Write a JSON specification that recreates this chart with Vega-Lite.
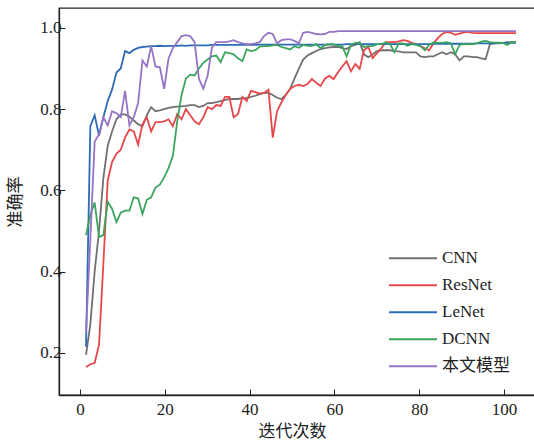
{
 "$schema": "https://vega.github.io/schema/vega-lite/v6.json",
 "width": 476, "height": 387,
 "autosize": {"type": "none"},
 "padding": {"left": 59, "top": 8, "right": 0, "bottom": 50},
 "background": "white",
 "config": {"view": {"stroke": "#222", "strokeWidth": 1.3}, "font": "Liberation Serif, Noto Sans CJK SC"},
 "data": {"values": [
{"x":1.42,"CNN":0.195,"ResNet":0.165,"LeNet":0.215,"DCNN":0.49,"本文模型":0.25},
{"x":2.44,"CNN":0.27,"ResNet":0.172,"LeNet":0.758,"DCNN":0.54,"本文模型":0.48},
{"x":3.46,"CNN":0.40,"ResNet":0.175,"LeNet":0.785,"DCNN":0.57,"本文模型":0.72},
{"x":4.49,"CNN":0.50,"ResNet":0.22,"LeNet":0.735,"DCNN":0.485,"本文模型":0.738},
{"x":5.51,"CNN":0.63,"ResNet":0.42,"LeNet":0.78,"DCNN":0.49,"本文模型":0.78},
{"x":6.54,"CNN":0.71,"ResNet":0.625,"LeNet":0.82,"DCNN":0.572,"本文模型":0.76},
{"x":7.56,"CNN":0.745,"ResNet":0.67,"LeNet":0.848,"DCNN":0.555,"本文模型":0.795},
{"x":8.59,"CNN":0.775,"ResNet":0.69,"LeNet":0.89,"DCNN":0.522,"本文模型":0.79},
{"x":9.61,"CNN":0.787,"ResNet":0.70,"LeNet":0.90,"DCNN":0.545,"本文模型":0.78},
{"x":10.63,"CNN":0.787,"ResNet":0.73,"LeNet":0.943,"DCNN":0.55,"本文模型":0.845},
{"x":11.66,"CNN":0.782,"ResNet":0.75,"LeNet":0.938,"DCNN":0.55,"本文模型":0.76},
{"x":12.68,"CNN":0.772,"ResNet":0.745,"LeNet":0.946,"DCNN":0.583,"本文模型":0.78},
{"x":13.71,"CNN":0.763,"ResNet":0.713,"LeNet":0.951,"DCNN":0.58,"本文模型":0.815},
{"x":14.73,"CNN":0.758,"ResNet":0.763,"LeNet":0.953,"DCNN":0.542,"本文模型":0.92},
{"x":15.76,"CNN":0.785,"ResNet":0.78,"LeNet":0.954,"DCNN":0.577,"本文模型":0.905},
{"x":16.78,"CNN":0.805,"ResNet":0.745,"LeNet":0.955,"DCNN":0.583,"本文模型":0.955},
{"x":17.80,"CNN":0.795,"ResNet":0.768,"LeNet":0.955,"DCNN":0.607,"本文模型":0.905},
{"x":18.83,"CNN":0.797,"ResNet":0.768,"LeNet":0.956,"DCNN":0.614,"本文模型":0.903},
{"x":19.85,"CNN":0.80,"ResNet":0.77,"LeNet":0.955,"DCNN":0.632,"本文模型":0.85},
{"x":20.88,"CNN":0.803,"ResNet":0.775,"LeNet":0.956,"DCNN":0.655,"本文模型":0.925},
{"x":21.90,"CNN":0.805,"ResNet":0.758,"LeNet":0.956,"DCNN":0.685,"本文模型":0.95},
{"x":22.93,"CNN":0.806,"ResNet":0.788,"LeNet":0.956,"DCNN":0.77,"本文模型":0.965},
{"x":23.95,"CNN":0.807,"ResNet":0.775,"LeNet":0.957,"DCNN":0.835,"本文模型":0.98},
{"x":24.97,"CNN":0.808,"ResNet":0.80,"LeNet":0.956,"DCNN":0.875,"本文模型":0.982},
{"x":26.00,"CNN":0.81,"ResNet":0.785,"LeNet":0.957,"DCNN":0.885,"本文模型":0.98},
{"x":27.02,"CNN":0.81,"ResNet":0.77,"LeNet":0.957,"DCNN":0.883,"本文模型":0.965},
{"x":28.05,"CNN":0.805,"ResNet":0.763,"LeNet":0.957,"DCNN":0.90,"本文模型":0.875},
{"x":29.07,"CNN":0.808,"ResNet":0.78,"LeNet":0.957,"DCNN":0.914,"本文模型":0.85},
{"x":30.10,"CNN":0.815,"ResNet":0.805,"LeNet":0.957,"DCNN":0.922,"本文模型":0.882},
{"x":31.12,"CNN":0.815,"ResNet":0.80,"LeNet":0.958,"DCNN":0.93,"本文模型":0.952},
{"x":32.14,"CNN":0.817,"ResNet":0.81,"LeNet":0.958,"DCNN":0.932,"本文模型":0.965},
{"x":33.17,"CNN":0.82,"ResNet":0.808,"LeNet":0.958,"DCNN":0.916,"本文模型":0.965},
{"x":34.19,"CNN":0.823,"ResNet":0.83,"LeNet":0.958,"DCNN":0.94,"本文模型":0.965},
{"x":35.22,"CNN":0.825,"ResNet":0.83,"LeNet":0.958,"DCNN":0.938,"本文模型":0.967},
{"x":36.24,"CNN":0.825,"ResNet":0.78,"LeNet":0.958,"DCNN":0.935,"本文模型":0.97},
{"x":37.27,"CNN":0.825,"ResNet":0.788,"LeNet":0.958,"DCNN":0.925,"本文模型":0.965},
{"x":38.29,"CNN":0.827,"ResNet":0.83,"LeNet":0.958,"DCNN":0.918,"本文模型":0.962},
{"x":39.31,"CNN":0.828,"ResNet":0.82,"LeNet":0.958,"DCNN":0.947,"本文模型":0.96},
{"x":40.34,"CNN":0.83,"ResNet":0.845,"LeNet":0.958,"DCNN":0.943,"本文模型":0.96},
{"x":41.36,"CNN":0.833,"ResNet":0.842,"LeNet":0.958,"DCNN":0.945,"本文模型":0.962},
{"x":42.39,"CNN":0.837,"ResNet":0.838,"LeNet":0.959,"DCNN":0.954,"本文模型":0.965},
{"x":43.41,"CNN":0.84,"ResNet":0.84,"LeNet":0.959,"DCNN":0.955,"本文模型":0.98},
{"x":44.44,"CNN":0.84,"ResNet":0.848,"LeNet":0.959,"DCNN":0.955,"本文模型":0.988},
{"x":45.46,"CNN":0.835,"ResNet":0.73,"LeNet":0.959,"DCNN":0.957,"本文模型":0.985},
{"x":46.48,"CNN":0.828,"ResNet":0.795,"LeNet":0.959,"DCNN":0.958,"本文模型":0.962},
{"x":47.51,"CNN":0.825,"ResNet":0.817,"LeNet":0.959,"DCNN":0.953,"本文模型":0.97},
{"x":48.53,"CNN":0.835,"ResNet":0.835,"LeNet":0.959,"DCNN":0.95,"本文模型":0.972},
{"x":49.56,"CNN":0.85,"ResNet":0.85,"LeNet":0.959,"DCNN":0.947,"本文模型":0.972},
{"x":50.58,"CNN":0.875,"ResNet":0.857,"LeNet":0.959,"DCNN":0.955,"本文模型":0.968},
{"x":51.61,"CNN":0.90,"ResNet":0.86,"LeNet":0.959,"DCNN":0.951,"本文模型":0.962},
{"x":52.63,"CNN":0.922,"ResNet":0.857,"LeNet":0.959,"DCNN":0.958,"本文模型":0.988},
{"x":53.65,"CNN":0.932,"ResNet":0.862,"LeNet":0.959,"DCNN":0.956,"本文模型":0.99},
{"x":54.68,"CNN":0.938,"ResNet":0.874,"LeNet":0.959,"DCNN":0.956,"本文模型":0.988},
{"x":55.70,"CNN":0.943,"ResNet":0.865,"LeNet":0.959,"DCNN":0.96,"本文模型":0.985},
{"x":56.73,"CNN":0.948,"ResNet":0.857,"LeNet":0.959,"DCNN":0.95,"本文模型":0.984},
{"x":57.75,"CNN":0.95,"ResNet":0.875,"LeNet":0.959,"DCNN":0.958,"本文模型":0.985},
{"x":58.78,"CNN":0.952,"ResNet":0.882,"LeNet":0.959,"DCNN":0.96,"本文模型":0.99},
{"x":59.80,"CNN":0.953,"ResNet":0.874,"LeNet":0.959,"DCNN":0.96,"本文模型":0.99},
{"x":60.82,"CNN":0.953,"ResNet":0.89,"LeNet":0.959,"DCNN":0.955,"本文模型":0.992},
{"x":61.85,"CNN":0.95,"ResNet":0.905,"LeNet":0.959,"DCNN":0.955,"本文模型":0.992},
{"x":62.87,"CNN":0.948,"ResNet":0.918,"LeNet":0.96,"DCNN":0.93,"本文模型":0.992},
{"x":63.90,"CNN":0.955,"ResNet":0.893,"LeNet":0.96,"DCNN":0.958,"本文模型":0.992},
{"x":64.92,"CNN":0.958,"ResNet":0.911,"LeNet":0.96,"DCNN":0.963,"本文模型":0.992},
{"x":65.95,"CNN":0.965,"ResNet":0.899,"LeNet":0.96,"DCNN":0.963,"本文模型":0.992},
{"x":66.97,"CNN":0.935,"ResNet":0.945,"LeNet":0.96,"DCNN":0.953,"本文模型":0.992},
{"x":67.99,"CNN":0.928,"ResNet":0.953,"LeNet":0.96,"DCNN":0.955,"本文模型":0.992},
{"x":69.02,"CNN":0.935,"ResNet":0.926,"LeNet":0.96,"DCNN":0.955,"本文模型":0.992},
{"x":70.04,"CNN":0.943,"ResNet":0.938,"LeNet":0.96,"DCNN":0.96,"本文模型":0.992},
{"x":71.07,"CNN":0.945,"ResNet":0.95,"LeNet":0.96,"DCNN":0.96,"本文模型":0.992},
{"x":72.09,"CNN":0.945,"ResNet":0.965,"LeNet":0.96,"DCNN":0.964,"本文模型":0.992},
{"x":73.12,"CNN":0.945,"ResNet":0.965,"LeNet":0.96,"DCNN":0.96,"本文模型":0.992},
{"x":74.14,"CNN":0.943,"ResNet":0.965,"LeNet":0.96,"DCNN":0.94,"本文模型":0.992},
{"x":75.16,"CNN":0.942,"ResNet":0.967,"LeNet":0.96,"DCNN":0.962,"本文模型":0.992},
{"x":76.19,"CNN":0.94,"ResNet":0.97,"LeNet":0.96,"DCNN":0.962,"本文模型":0.992},
{"x":77.21,"CNN":0.94,"ResNet":0.968,"LeNet":0.96,"DCNN":0.956,"本文模型":0.992},
{"x":78.24,"CNN":0.94,"ResNet":0.963,"LeNet":0.96,"DCNN":0.96,"本文模型":0.992},
{"x":79.26,"CNN":0.94,"ResNet":0.96,"LeNet":0.96,"DCNN":0.958,"本文模型":0.992},
{"x":80.29,"CNN":0.93,"ResNet":0.955,"LeNet":0.96,"DCNN":0.955,"本文模型":0.992},
{"x":81.31,"CNN":0.928,"ResNet":0.95,"LeNet":0.96,"DCNN":0.945,"本文模型":0.992},
{"x":82.33,"CNN":0.93,"ResNet":0.945,"LeNet":0.96,"DCNN":0.958,"本文模型":0.992},
{"x":83.36,"CNN":0.93,"ResNet":0.962,"LeNet":0.961,"DCNN":0.964,"本文模型":0.992},
{"x":84.38,"CNN":0.935,"ResNet":0.975,"LeNet":0.961,"DCNN":0.963,"本文模型":0.992},
{"x":85.41,"CNN":0.94,"ResNet":0.985,"LeNet":0.961,"DCNN":0.963,"本文模型":0.992},
{"x":86.43,"CNN":0.935,"ResNet":0.99,"LeNet":0.961,"DCNN":0.965,"本文模型":0.992},
{"x":87.46,"CNN":0.94,"ResNet":0.988,"LeNet":0.961,"DCNN":0.962,"本文模型":0.992},
{"x":88.48,"CNN":0.935,"ResNet":0.983,"LeNet":0.961,"DCNN":0.935,"本文模型":0.992},
{"x":89.50,"CNN":0.92,"ResNet":0.986,"LeNet":0.961,"DCNN":0.958,"本文模型":0.992},
{"x":90.53,"CNN":0.93,"ResNet":0.989,"LeNet":0.961,"DCNN":0.96,"本文模型":0.992},
{"x":91.55,"CNN":0.93,"ResNet":0.99,"LeNet":0.961,"DCNN":0.96,"本文模型":0.992},
{"x":92.58,"CNN":0.928,"ResNet":0.988,"LeNet":0.961,"DCNN":0.96,"本文模型":0.992},
{"x":93.60,"CNN":0.928,"ResNet":0.987,"LeNet":0.962,"DCNN":0.962,"本文模型":0.992},
{"x":94.63,"CNN":0.925,"ResNet":0.987,"LeNet":0.962,"DCNN":0.966,"本文模型":0.992},
{"x":95.65,"CNN":0.923,"ResNet":0.987,"LeNet":0.962,"DCNN":0.968,"本文模型":0.992},
{"x":96.67,"CNN":0.96,"ResNet":0.987,"LeNet":0.962,"DCNN":0.965,"本文模型":0.992},
{"x":97.70,"CNN":0.962,"ResNet":0.987,"LeNet":0.962,"DCNN":0.964,"本文模型":0.992},
{"x":98.72,"CNN":0.963,"ResNet":0.987,"LeNet":0.962,"DCNN":0.964,"本文模型":0.992},
{"x":99.75,"CNN":0.963,"ResNet":0.987,"LeNet":0.963,"DCNN":0.963,"本文模型":0.992},
{"x":100.77,"CNN":0.965,"ResNet":0.987,"LeNet":0.963,"DCNN":0.958,"本文模型":0.992},
{"x":101.80,"CNN":0.965,"ResNet":0.987,"LeNet":0.963,"DCNN":0.965,"本文模型":0.992},
{"x":102.82,"CNN":0.965,"ResNet":0.987,"LeNet":0.963,"DCNN":0.965,"本文模型":0.992}
 ]},
 "transform": [{"fold": ["CNN", "ResNet", "LeNet", "DCNN", "本文模型"], "as": ["model", "acc"]}],
 "mark": {"type": "line", "strokeWidth": 1.8, "clip": true},
 "encoding": {
  "x": {"field": "x", "type": "quantitative",
   "scale": {"domain": [-4.95, 107.3], "nice": false, "zero": false},
   "axis": {"values": [0, 20, 40, 60, 80, 100], "title": "迭代次数", "grid": false,
    "tickSize": -6, "tickColor": "#222", "domainColor": "#222", "domainWidth": 1.3,
    "labelFontSize": 17, "labelColor": "#222", "labelPadding": 12,
    "titleFontSize": 17, "titleFontWeight": "normal", "titleColor": "#222", "titleX": 233, "titlePadding": 6}},
  "y": {"field": "acc", "type": "quantitative",
   "scale": {"domain": [0.0963, 1.049], "nice": false, "zero": false},
   "axis": {"values": [0.2, 0.4, 0.6, 0.8, 1.0], "format": ".1f", "title": "准确率", "grid": false,
    "tickSize": -6, "tickColor": "#222", "domainColor": "#222", "domainWidth": 1.3,
    "labelFontSize": 17, "labelColor": "#222", "labelPadding": 4,
    "titleFontSize": 17, "titleFontWeight": "normal", "titleColor": "#222", "titlePadding": 15}},
  "color": {"field": "model", "type": "nominal",
   "scale": {"domain": ["CNN", "ResNet", "LeNet", "DCNN", "本文模型"],
    "range": ["#707070", "#e7474a", "#2b6cb5", "#3ba55d", "#9673c4"]},
   "legend": {"title": null, "orient": "none", "legendX": 329, "legendY": 237,
    "symbolType": "stroke", "symbolSize": 2304, "symbolStrokeWidth": 2, "clipHeight": 26.3,
    "labelFontSize": 17, "labelColor": "#222", "labelOffset": 4, "rowPadding": 0}}
 }
}
